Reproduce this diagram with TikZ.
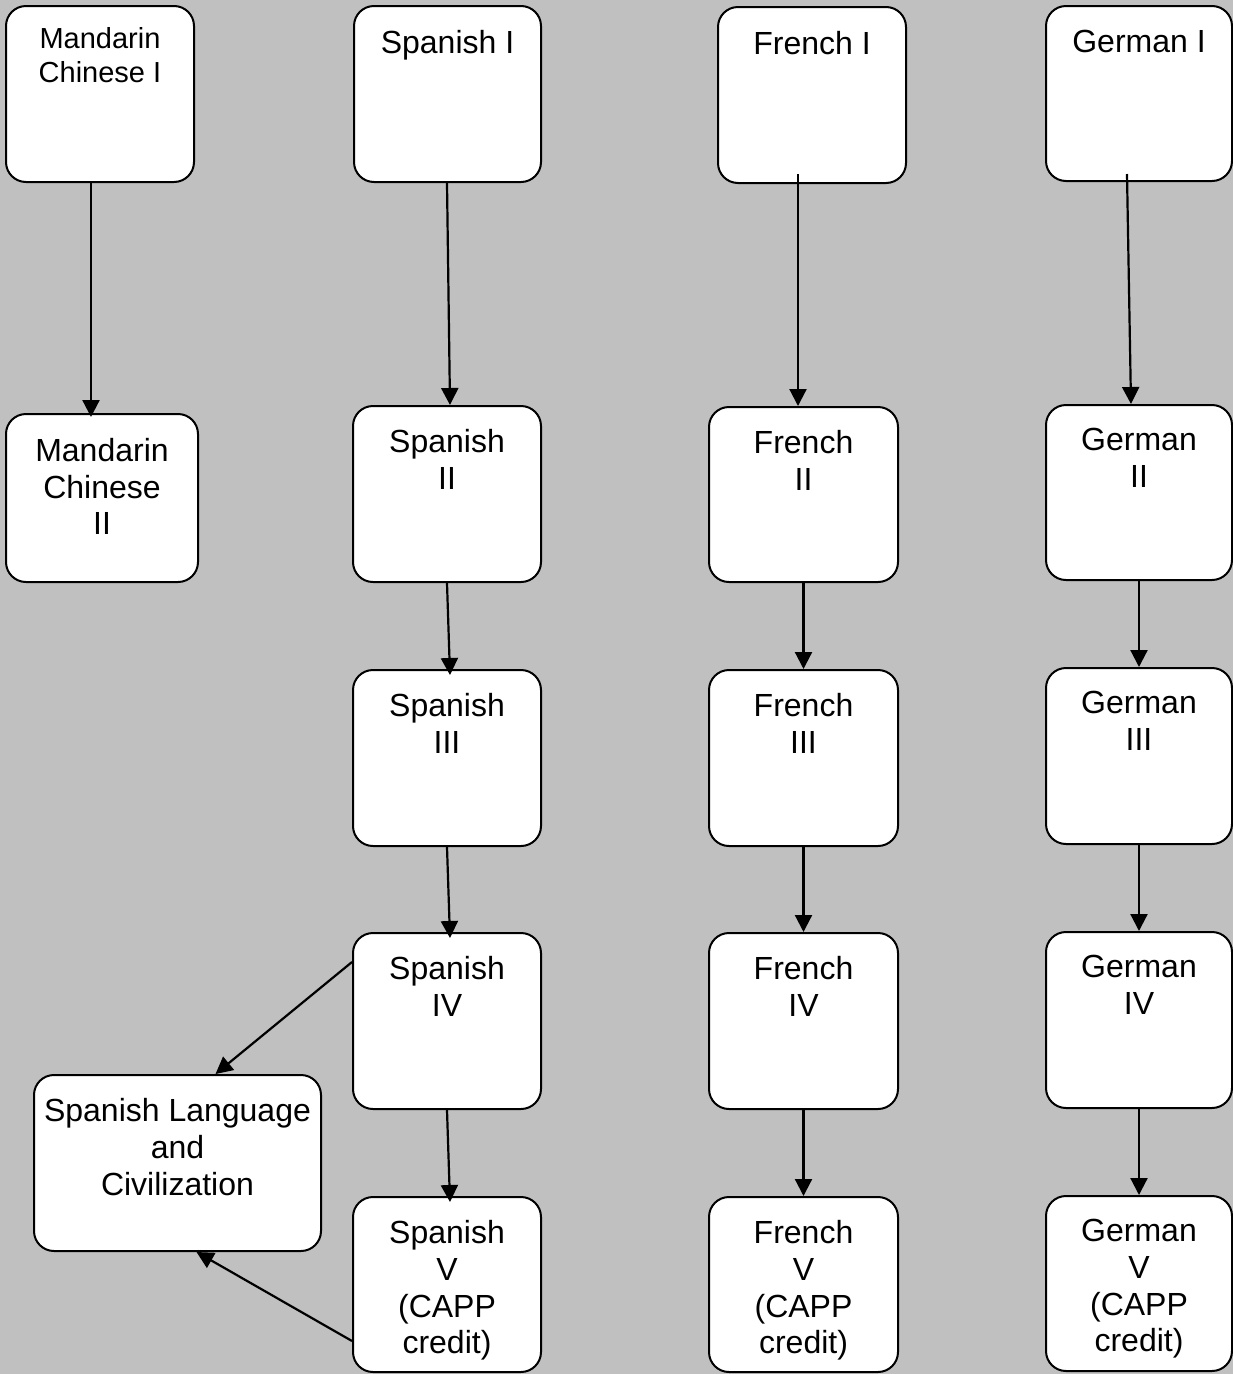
\documentclass[tikz,border=0pt]{standalone}
\usepackage{fontspec}
\setmainfont{Liberation Sans}
\usetikzlibrary{arrows.meta,calc}
\definecolor{bggray}{RGB}{192,192,192}
\begin{document}
\begin{tikzpicture}[x=1pt,y=-1pt,
  course/.style={draw=black,fill=white,line width=2pt,rounded corners=20pt,
    rectangle,inner sep=0pt,minimum width=188pt,minimum height=176pt},
  txt/.style={anchor=north,align=center,inner sep=0pt,
    font=\fontsize{32}{36.8}\selectfont},
  smalltxt/.style={txt,font=\fontsize{29}{34}\selectfont},
  link/.style={line width=2.2pt,-{Triangle[length=17pt,width=17pt]}}]
\useasboundingbox (0,0) rectangle (1233,1374);
\fill[bggray] (0,0) rectangle (1233,1374);

% Mandarin Chinese
\node[course] (m1) at (100,94) {};
\node[course,minimum width=192pt,minimum height=168pt] (m2) at (102,498) {};
% Spanish
\node[course,minimum width=187pt] (s1) at (447.5,94) {};
\node[course] (s2) at (447,494) {};
\node[course] (s3) at (447,758) {};
\node[course] (s4) at (447,1021) {};
\node[course,minimum height=175pt] (s5) at (447,1284.5) {};
\node[course,minimum width=287pt] (slc) at (177.5,1163) {};
% French
\node[course] (f1) at (812,95) {};
\node[course,minimum width=189pt,minimum height=175pt] (f2) at (803.5,494.5) {};
\node[course,minimum width=189pt] (f3) at (803.5,758) {};
\node[course,minimum width=189pt] (f4) at (803.5,1021) {};
\node[course,minimum width=189pt,minimum height=175pt] (f5) at (803.5,1284.5) {};
% German
\node[course,minimum width=186pt,minimum height=175pt] (g1) at (1139,93.5) {};
\node[course,minimum width=186pt,minimum height=175pt] (g2) at (1139,492.5) {};
\node[course,minimum width=186pt] (g3) at (1139,756) {};
\node[course,minimum width=186pt] (g4) at (1139,1020) {};
\node[course,minimum width=186pt,minimum height=175pt] (g5) at (1139,1283.5) {};

% Course titles, set near the top of each box
\node[smalltxt] (m1t) at ([yshift=-22pt]m1.north) {Mandarin\\Chinese I};
\node[txt] (m2t) at ([yshift=-25pt]m2.north) {Mandarin\\Chinese\\II};
\node[txt] (s1t) at ([yshift=-25pt]s1.north) {Spanish I};
\node[txt] (s2t) at ([yshift=-24pt]s2.north) {Spanish\\II};
\node[txt] (s3t) at ([yshift=-24pt]s3.north) {Spanish\\III};
\node[txt] (s4t) at ([yshift=-24pt]s4.north) {Spanish\\IV};
\node[txt] (s5t) at ([yshift=-24pt]s5.north) {Spanish\\V\\(CAPP\\credit)};
\node[txt] (slct) at ([yshift=-24pt]slc.north) {Spanish Language\\and\\Civilization};
\node[txt] (f1t) at ([yshift=-25pt]f1.north) {French I};
\node[txt] (f2t) at ([yshift=-24pt]f2.north) {French\\II};
\node[txt] (f3t) at ([yshift=-24pt]f3.north) {French\\III};
\node[txt] (f4t) at ([yshift=-24pt]f4.north) {French\\IV};
\node[txt] (f5t) at ([yshift=-24pt]f5.north) {French\\V\\(CAPP\\credit)};
\node[txt] (g1t) at ([yshift=-25pt]g1.north) {German I};
\node[txt] (g2t) at ([yshift=-24pt]g2.north) {German\\II};
\node[txt] (g3t) at ([yshift=-24pt]g3.north) {German\\III};
\node[txt] (g4t) at ([yshift=-24pt]g4.north) {German\\IV};
\node[txt] (g5t) at ([yshift=-24pt]g5.north) {German\\V\\(CAPP\\credit)};

% Prerequisite arrows
\draw[link] ([xshift=-9pt]m1.south) -- ([xshift=-11pt,yshift=-4pt]m2.north);
\draw[link] ([xshift=-0.5pt]s1.south) -- ([xshift=3pt]s2.north);
\draw[link] (s2.south) -- ([xshift=3pt,yshift=-6pt]s3.north);
\draw[link] (s3.south) -- ([xshift=3pt,yshift=-6pt]s4.north);
\draw[link] (s4.south) -- ([xshift=3pt,yshift=-6pt]s5.north);
\draw[link] ([xshift=-14pt,yshift=10pt]f1.south) -- ([xshift=-5.5pt]f2.north);
\draw[link] (f2.south) -- (f3.north);
\draw[link] (f3.south) -- (f4.north);
\draw[link] (f4.south) -- (f5.north);
\draw[link] ([xshift=-12pt,yshift=8pt]g1.south) -- ([xshift=-8pt]g2.north);
\draw[link] (g2.south) -- (g3.north);
\draw[link] (g3.south) -- (g4.north);
\draw[link] (g4.south) -- (g5.north);
\draw[link] ([yshift=-30pt]s4.north west) -- ([xshift=38pt]slc.north);
\draw[link] ([yshift=32pt]s5.south west) -- ([xshift=19pt]slc.south);
\end{tikzpicture}
\end{document}
